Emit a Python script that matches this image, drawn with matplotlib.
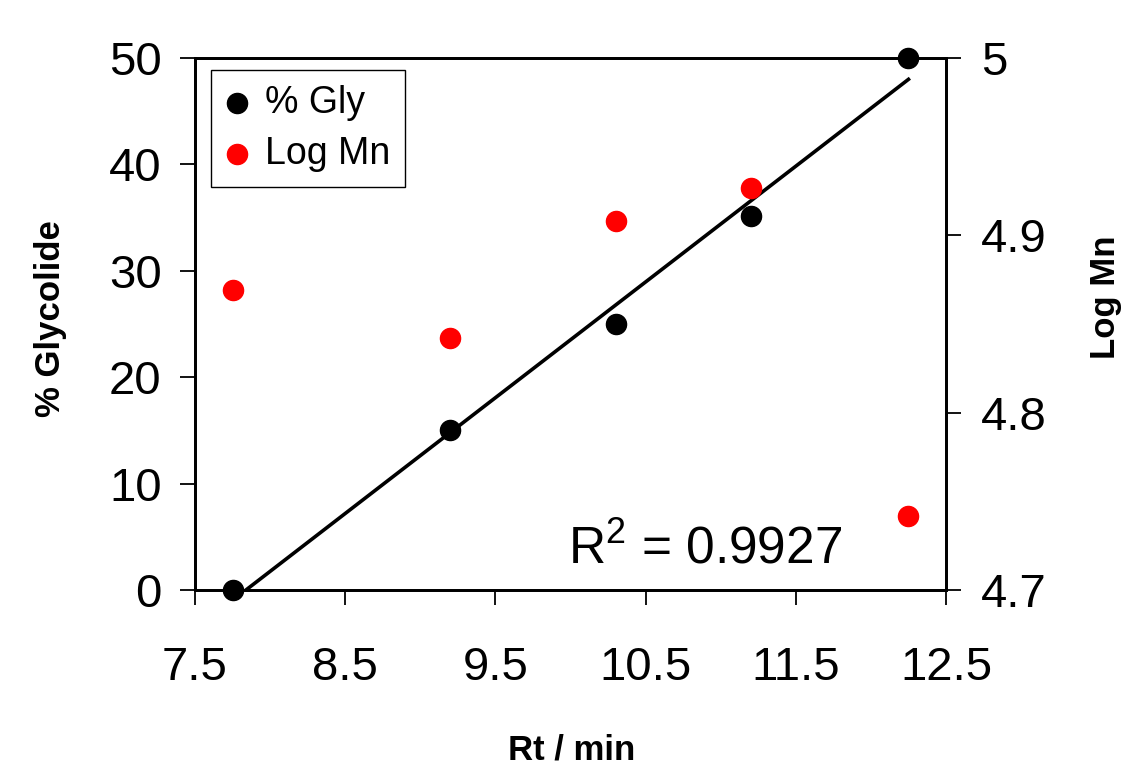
import matplotlib
matplotlib.use('Agg')
import matplotlib.pyplot as plt
import numpy as np

plt.rcParams['font.family'] = ['Liberation Sans', 'DejaVu Sans']
plt.rcParams['mathtext.fontset'] = 'custom'
plt.rcParams['mathtext.rm'] = 'Liberation Sans'

# dados
rt = np.array([7.75, 9.2, 10.3, 11.2, 12.25])
gly = np.array([0, 15, 25, 35.2, 50])
log_mn = np.array([4.869, 4.842, 4.908, 4.927, 4.742])
x_ticks = [7.5, 8.5, 9.5, 10.5, 11.5, 12.5]
gly_ticks = [0, 10, 20, 30, 40, 50]
mn_ticks = [4.7, 4.8, 4.9, 5.0]
mn_labels = ['4.7', '4.8', '4.9', '5']
r2_text = r'R$^{\mathrm{2}}$ = 0.9927'

fig = plt.figure(figsize=(11.32, 7.73), dpi=100)
ax = fig.add_axes([0.1723, 0.2367, 0.6634, 0.6882])
ax2 = ax.twinx()

# regressao linear
coef = np.polyfit(rt, gly, 1)
xs = np.array([rt.min(), rt.max()])
ax.plot(xs, np.polyval(coef, xs), color='black', lw=2.6, zorder=2)

h1 = ax.scatter(rt, gly, s=210, color='black', zorder=3, clip_on=False, label='% Gly')
h2 = ax2.scatter(rt, log_mn, s=210, color='red', zorder=3, clip_on=False, label='Log Mn')

ax.set_xlim(7.5, 12.5)
ax.set_ylim(0, 50)
ax2.set_ylim(4.7, 5.0)
ax.set_xticks(x_ticks)
ax.set_xticklabels([str(t) for t in x_ticks])
ax.set_yticks(gly_ticks)
ax2.set_yticks(mn_ticks)
ax2.set_yticklabels(mn_labels)

for a in (ax, ax2):
    for s in a.spines.values():
        s.set_linewidth(2.0)
        s.set_color('black')

ax.tick_params(axis='x', direction='out', length=11, width=1.3, labelsize=34, pad=29)
ax.tick_params(axis='y', direction='out', length=11, width=1.3, labelsize=34, pad=13, right=False)
ax2.tick_params(axis='y', direction='out', length=11, width=1.3, labelsize=34, pad=14)

ax.set_xlabel('Rt / min', fontsize=25, fontweight='bold')
ax.xaxis.set_label_coords(0.502, -0.27)
ax.set_ylabel('% Glycolide', fontsize=25, fontweight='bold')
ax.yaxis.set_label_coords(-0.17, 0.51)
ax2.set_ylabel('Log Mn', fontsize=25, fontweight='bold')
ax2.yaxis.set_label_coords(1.19, 0.55)

ax.text(0.497, 0.05, r2_text, transform=ax.transAxes, fontsize=37, ha='left', va='baseline')

leg = ax2.legend([h1, h2], ['% Gly', 'Log Mn'], loc='upper left', bbox_to_anchor=(0.021, 0.977),
                 borderaxespad=0, fontsize=27, fancybox=False, framealpha=1, edgecolor='black',
                 handletextpad=0.45, labelspacing=0.4, borderpad=0.4, handlelength=0.6)
leg.get_frame().set_linewidth(1.0)

fig.savefig('out.png', dpi=100)
